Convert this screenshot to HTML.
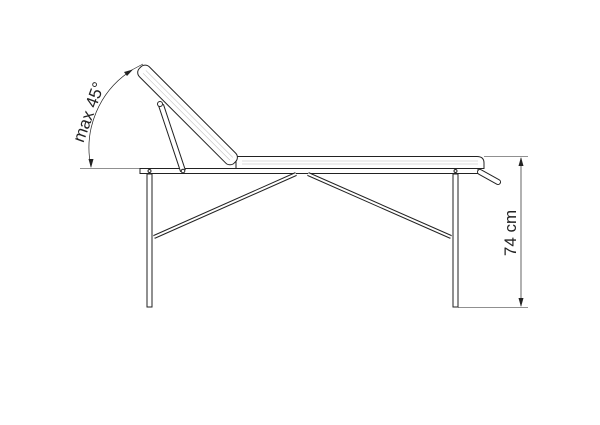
<!DOCTYPE html>
<html><head><style>body{margin:0;background:#fff}svg{display:block}</style></head>
<body>
<svg width="600" height="425" viewBox="0 0 600 425" xmlns="http://www.w3.org/2000/svg" fill="none" stroke="#222" stroke-width="1">
<line x1="80" y1="168.5" x2="140" y2="168.5" stroke-width="0.6"/>
<line x1="484" y1="156.5" x2="528" y2="156.5" stroke-width="0.6"/>
<line x1="458" y1="307.5" x2="528" y2="307.5" stroke-width="0.6"/>
<line x1="521" y1="158" x2="521" y2="306" stroke-width="0.7"/>
<polygon points="521,157 518.5,166 523.5,166" fill="#222" stroke="none"/>
<polygon points="521,307 518.5,298 523.5,298" fill="#222" stroke="none"/>
<text x="0" y="0" transform="translate(516,233) rotate(-90)" text-anchor="middle" font-family="Liberation Sans, sans-serif" font-size="17" fill="#222" stroke="none">74 cm</text>
<path d="M91,167 A92,92 0 0 1 132,70" stroke-width="0.7"/>
<line x1="128" y1="72" x2="143" y2="64" stroke-width="0.6"/>
<polygon points="91,168 88.5,159 93.5,159" fill="#222" stroke="none"/>
<polygon points="133,69.5 124,72 127,76" fill="#222" stroke="none"/>
<text transform="translate(94,114) rotate(-70)" text-anchor="middle" font-family="Liberation Sans, sans-serif" font-size="17" fill="#222" stroke="none">max 45°</text>
<rect x="140" y="168.5" width="338" height="5" fill="#fff"/>
<path d="M236,156.5 H477 Q484,156.5 484,163 V168.5 H236 Z" fill="#fff"/>
<line x1="242" y1="161" x2="478" y2="161" stroke="#bbb" stroke-width="0.5"/>
<line x1="242" y1="164" x2="478" y2="164" stroke="#bbb" stroke-width="0.5"/>
<rect x="147" y="174" width="5" height="133" fill="#fff"/>
<rect x="453" y="174" width="5" height="133" fill="#fff"/>
<circle cx="149.5" cy="171" r="1.5"/>
<circle cx="455.5" cy="171" r="1.5"/>
<line x1="296" y1="174" x2="154" y2="237" stroke-width="4"/>
<line x1="296" y1="174" x2="154" y2="237" stroke="#fff" stroke-width="2"/>
<line x1="308" y1="174" x2="451" y2="237" stroke-width="4"/>
<line x1="308" y1="174" x2="451" y2="237" stroke="#fff" stroke-width="2"/>
<line x1="480" y1="172" x2="498" y2="182" stroke-width="6" stroke-linecap="round"/>
<line x1="480" y1="172" x2="498" y2="182" stroke="#fff" stroke-width="4" stroke-linecap="round"/>
<line x1="161" y1="105" x2="183" y2="171" stroke-width="6"/>
<line x1="161" y1="105" x2="183" y2="171" stroke="#fff" stroke-width="4"/>
<circle cx="160" cy="104" r="2.5" fill="#fff"/>
<circle cx="183" cy="171" r="1.8" fill="#fff"/>
<g transform="translate(143,69) rotate(45)">
<rect x="-3" y="-6" width="134" height="14" rx="6" fill="#fff"/>
<line x1="3" y1="-1" x2="126" y2="-1" stroke="#bbb" stroke-width="0.5"/>
<line x1="3" y1="3" x2="126" y2="3" stroke="#bbb" stroke-width="0.5"/>
</g>
</svg>
</body></html>
